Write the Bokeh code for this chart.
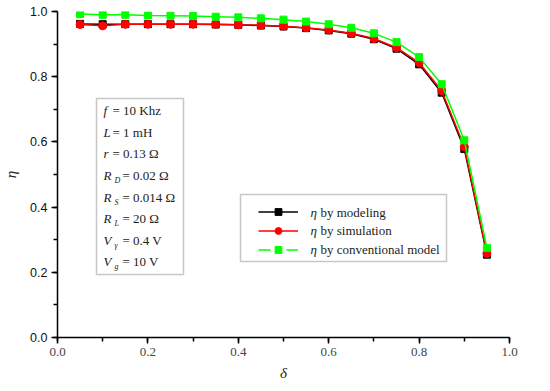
from bokeh.plotting import figure
from bokeh.models import (Range1d, Legend, LegendItem, Label, BoxAnnotation,
                          SingleIntervalTicker, PrintfTickFormatter)
from bokeh.embed import file_html
from bokeh.resources import INLINE

# Data
delta = [0.05, 0.10, 0.15, 0.20, 0.25, 0.30, 0.35, 0.40, 0.45, 0.50,
         0.55, 0.60, 0.65, 0.70, 0.75, 0.80, 0.85, 0.90, 0.95]
eta_modeling = [0.962, 0.961, 0.961, 0.961, 0.961, 0.961, 0.960, 0.959, 0.957, 0.954,
                0.949, 0.942, 0.932, 0.915, 0.886, 0.838, 0.751, 0.578, 0.254]
eta_simulation = [0.960, 0.956, 0.961, 0.961, 0.961, 0.961, 0.961, 0.959, 0.958, 0.955,
                  0.950, 0.943, 0.933, 0.917, 0.889, 0.843, 0.757, 0.585, 0.258]
eta_conventional = [0.992, 0.990, 0.990, 0.988, 0.987, 0.986, 0.984, 0.982, 0.979, 0.975,
                    0.969, 0.961, 0.950, 0.933, 0.906, 0.860, 0.777, 0.605, 0.275]

legend_texts = ["by modeling", "by simulation", "by conventional model"]
params = [("f", "", "= 10 Khz"), ("L", "", "= 1 mH"), ("r", "", "= 0.13 Ω"),
          ("R", "D", "= 0.02 Ω"), ("R", "S", "= 0.014 Ω"), ("R", "L", "= 20 Ω"),
          ("V", "γ", "= 0.4 V"), ("V", "g", "= 10 V")]

SERIF = "Liberation Serif"
SANS = "Liberation Sans"
INK = "#222222"

p = figure(frame_width=452, frame_height=326, output_backend="svg", toolbar_location=None,
           x_range=Range1d(0, 1), y_range=Range1d(0, 1),
           min_border_left=49, min_border_right=30, min_border_top=11, min_border_bottom=46)
p.outline_line_color = None
p.xgrid.visible = False
p.ygrid.visible = False

for ax in (p.xaxis[0], p.yaxis[0]):
    ax.ticker = SingleIntervalTicker(interval=0.2, num_minor_ticks=2)
    ax.formatter = PrintfTickFormatter(format="%.1f")
    ax.axis_line_width = 1.5
    ax.major_tick_line_width = 1.5
    ax.minor_tick_line_width = 1.5
    ax.major_tick_out = 6
    ax.major_tick_in = 0
    ax.minor_tick_out = 4
    ax.minor_tick_in = 0
    ax.axis_label_text_font = SERIF
    ax.axis_label_text_font_style = "italic"
    ax.axis_label_text_font_size = "15px"
    ax.axis_label_text_color = INK

p.xaxis.axis_label = "δ"
p.yaxis.axis_label = "η"
p.xaxis.major_label_text_font = SERIF
p.xaxis.major_label_text_font_size = "13px"
p.xaxis.major_label_text_color = "#444444"
p.xaxis.major_label_standoff = 4
p.yaxis.major_label_text_font = SANS
p.yaxis.major_label_text_font_size = "12.5px"
p.yaxis.major_label_text_color = "#111111"
p.yaxis.major_label_standoff = 4
p.xaxis.axis_label_standoff = 6
p.yaxis.axis_label_standoff = 8

# helpers to place annotations by frame pixel position
def dx(px):
    return (px - 57) / 452.0

def dy(py):
    return (338.0 - py) / 326.0

# legend box drawn first (behind)
p.add_layout(BoxAnnotation(left=dx(240), right=dx(446), top=dy(195), bottom=dy(262),
                           fill_color="white", fill_alpha=1, line_color="#444444", line_width=1.5))

r1l = p.line(delta, eta_modeling, line_color="black", line_width=1.5)
r1m = p.scatter(delta, eta_modeling, marker="square", size=7, fill_color="black", line_color="black")
r2l = p.line(delta, eta_simulation, line_color="#ff0000", line_width=1.5)
r2m = p.scatter(delta, eta_simulation, marker="circle", size=8, fill_color="#ff0000", line_color="#ff0000")
r3l = p.line(delta, eta_conventional, line_color="#00ff00", line_width=1.5)
r3m = p.scatter(delta, eta_conventional, marker="square", size=7, fill_color="#00ff00", line_color="#00ff00")
# dashed style only used for the legend sample
r3d = p.line(delta, eta_conventional, line_color="#00ff00", line_width=1.5,
             line_dash="12 16", visible=False)

legend = Legend(items=[LegendItem(label=" ", renderers=[r1l, r1m]),
                       LegendItem(label=" ", renderers=[r2l, r2m]),
                       LegendItem(label=" ", renderers=[r3d, r3m])],
                location=(258 - 57, 338 - 259),
                label_text_font_size="6px",
                glyph_width=40, glyph_height=17, label_height=17, spacing=2, padding=0,
                margin=0, label_standoff=0, border_line_color=None,
                background_fill_alpha=0, inactive_fill_alpha=0)
p.add_layout(legend, "center")

legend_rows = [213, 231, 250]
for txt, ry in zip(legend_texts, legend_rows):
    p.add_layout(Label(x=dx(310), y=dy(ry), text="η", text_font=SERIF, text_font_style="italic",
                       text_font_size="13px", text_baseline="middle", text_color=INK))
    p.add_layout(Label(x=dx(320), y=dy(ry), text=txt, text_font=SERIF,
                       text_font_size="13px", text_baseline="middle", text_color=INK))

# parameter box
p.add_layout(BoxAnnotation(left=dx(96), right=dx(183), top=dy(99), bottom=dy(275),
                           fill_color="white", fill_alpha=1, line_color="#444444", line_width=1.5))

row_y = [111, 133, 154, 176, 198, 219, 241, 262]
for (var, sub, rest), ry in zip(params, row_y):
    p.add_layout(Label(x=dx(103), y=dy(ry), text=var, text_font=SERIF, text_font_style="italic",
                       text_font_size="13px", text_baseline="middle", text_color=INK))
    if sub:
        p.add_layout(Label(x=dx(114), y=dy(ry + 5), text=sub, text_font=SERIF, text_font_style="italic",
                           text_font_size="8px", text_baseline="middle", text_color=INK))
        rx = 122
    else:
        rx = 112
    p.add_layout(Label(x=dx(rx), y=dy(ry), text=rest, text_font=SERIF,
                       text_font_size="13px", text_baseline="middle", text_color=INK))

open("out.html", "w").write(file_html(p, INLINE))
